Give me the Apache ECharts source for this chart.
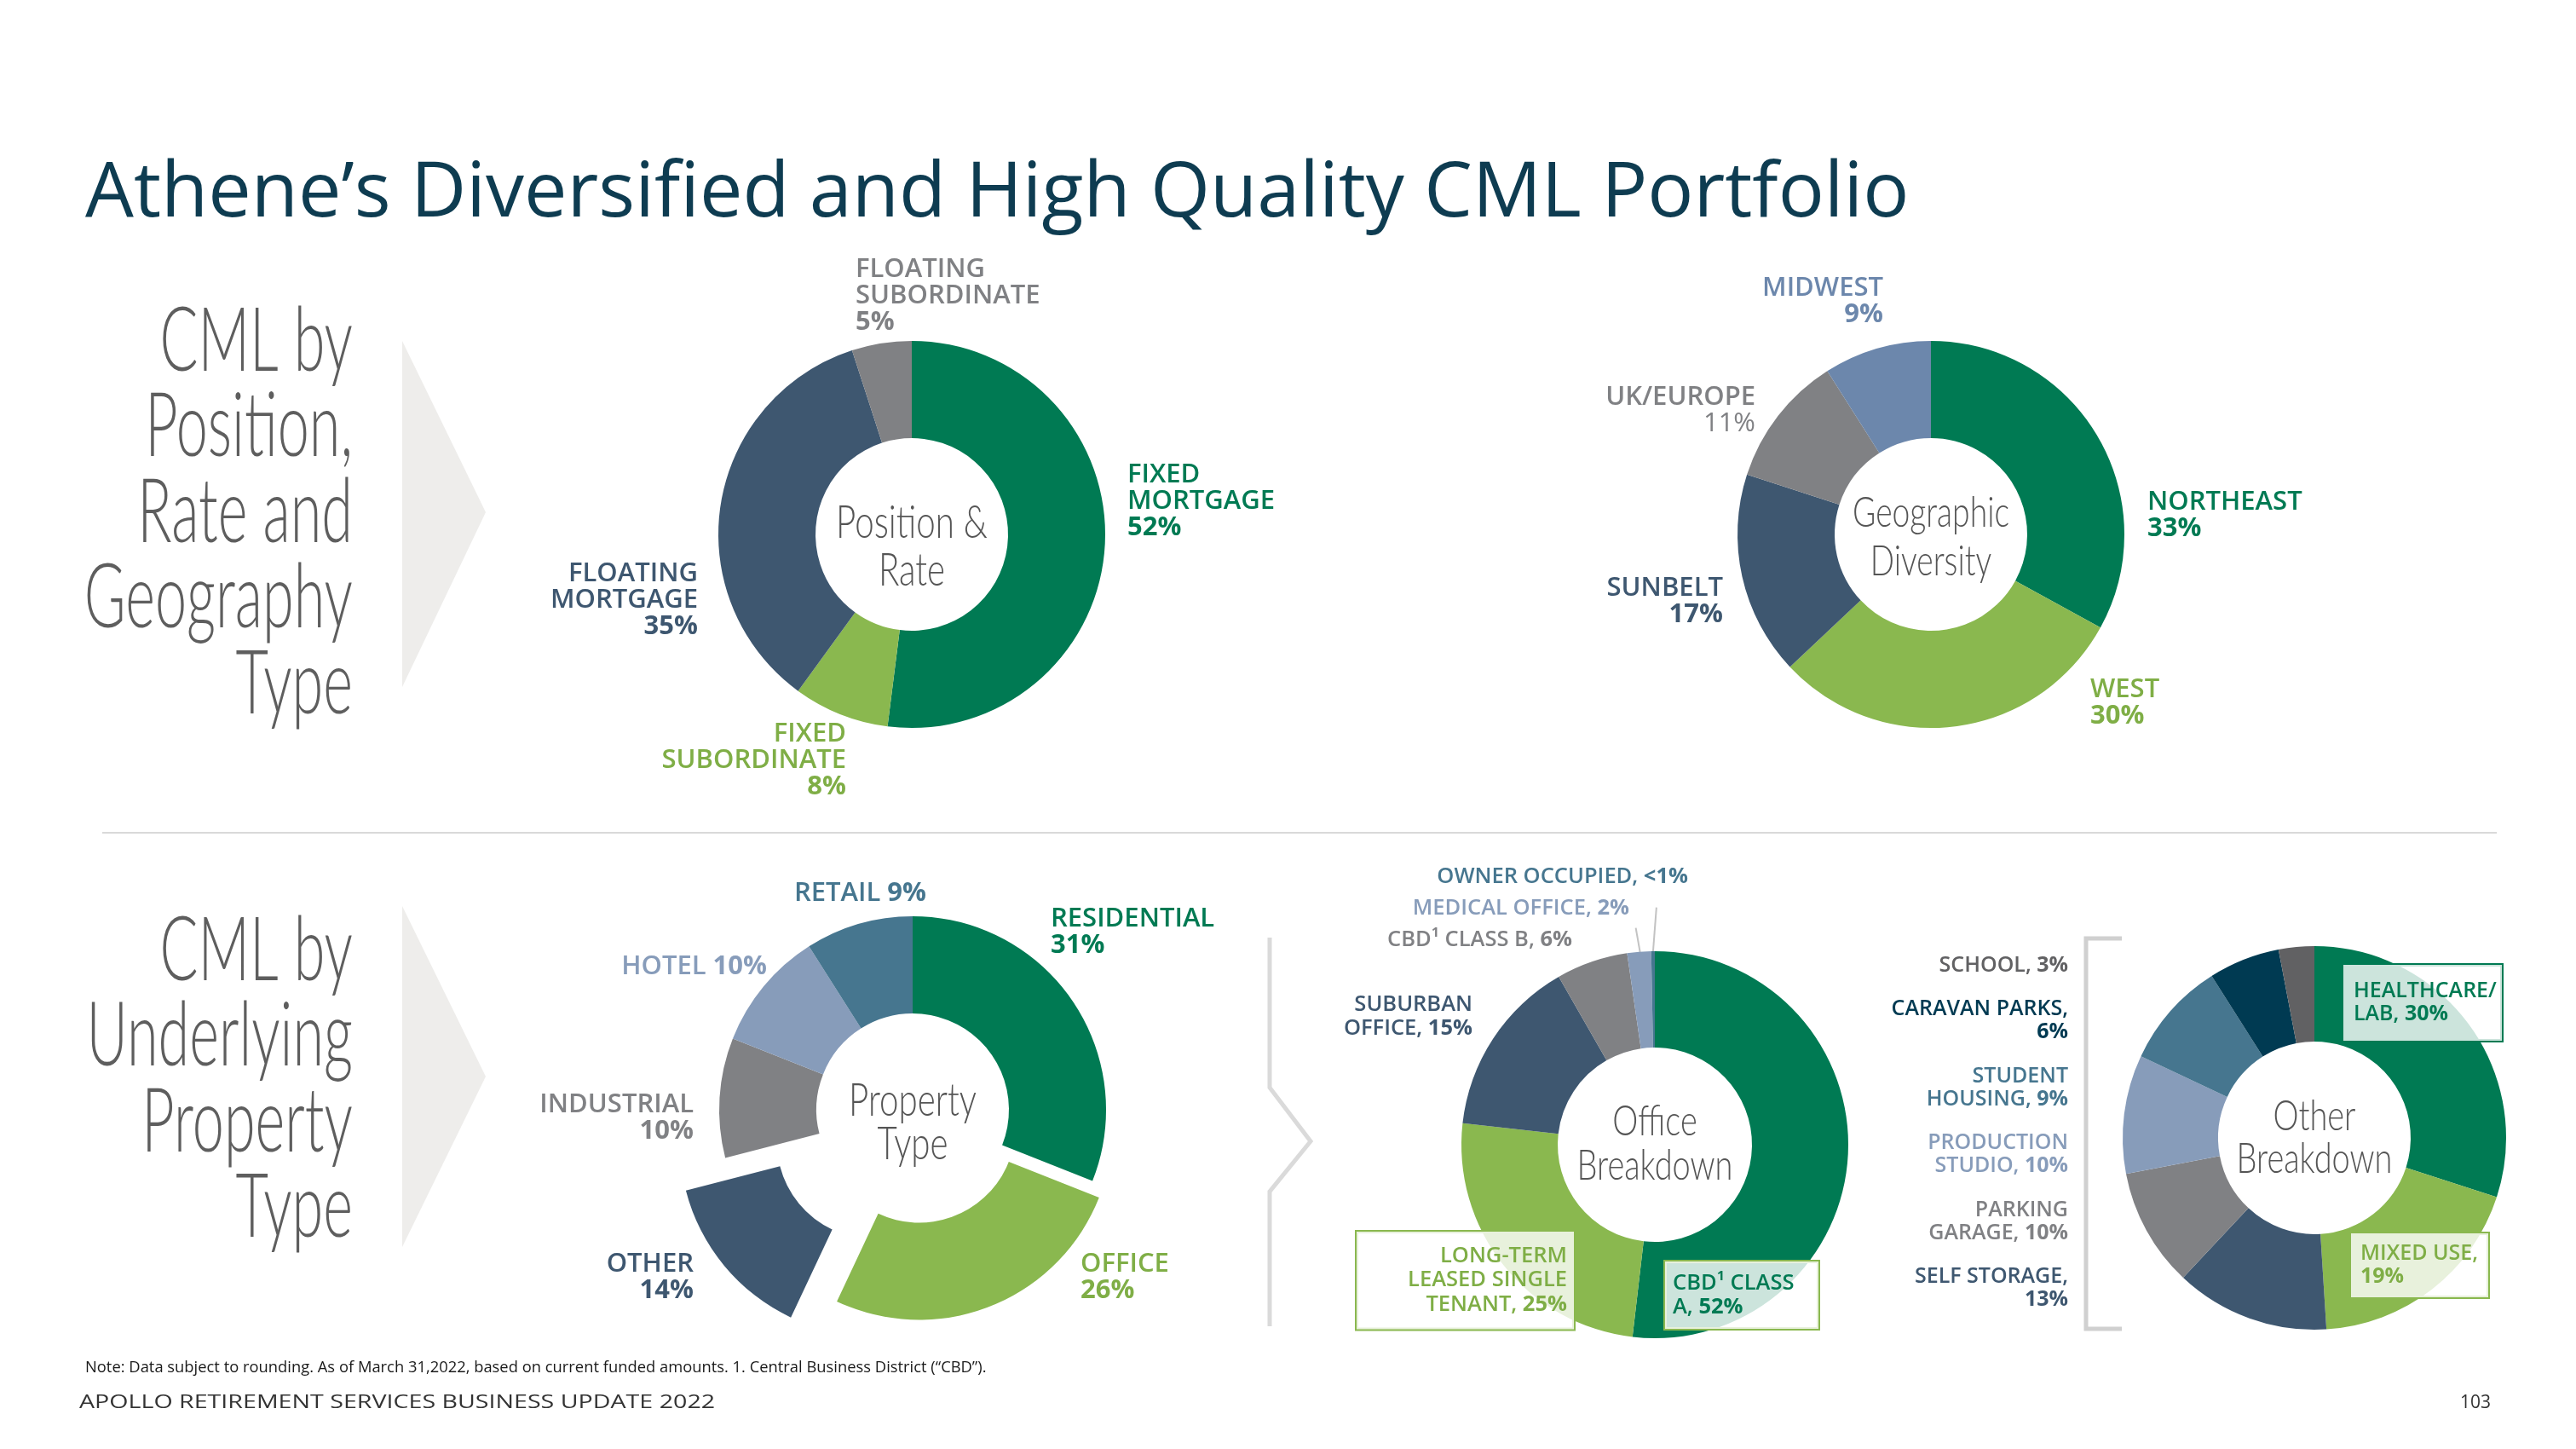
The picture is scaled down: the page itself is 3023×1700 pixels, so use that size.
<!DOCTYPE html>
<html><head><meta charset="utf-8">
<script src="https://cdn.jsdelivr.net/npm/echarts@6/dist/echarts.min.js"></script>
<style>html,body{margin:0;padding:0;background:#fff}#c{width:3023px;height:1700px}</style>
</head><body><div id="c"></div>
<script>
// ---------------- data ----------------
const titleText = 'Athene’s Diversified and High Quality CML Portfolio';
const positionNames = ['FIXED\nMORTGAGE', 'FIXED\nSUBORDINATE', 'FLOATING\nMORTGAGE', 'FLOATING\nSUBORDINATE'];
const positionValues = [52, 8, 35, 5];
const geoNames = ['NORTHEAST', 'WEST', 'SUNBELT', 'UK/EUROPE', 'MIDWEST'];
const geoValues = [33, 30, 17, 11, 9];
const propertyNames = ['RESIDENTIAL', 'OFFICE', 'OTHER', 'INDUSTRIAL', 'HOTEL', 'RETAIL'];
const propertyValues = [31, 26, 14, 10, 10, 9];
const officeNames = ['CBD¹ CLASS\nA', 'LONG-TERM\nLEASED SINGLE\nTENANT', 'SUBURBAN\nOFFICE', 'CBD¹ CLASS B', 'MEDICAL OFFICE', 'OWNER OCCUPIED'];
const officeValues = [52, 25, 15, 6, 2, 0.3];
const otherNames = ['HEALTHCARE/\nLAB', 'MIXED USE', 'SELF STORAGE', 'PARKING\nGARAGE', 'PRODUCTION\nSTUDIO', 'STUDENT\nHOUSING', 'CARAVAN PARKS', 'SCHOOL'];
const otherValues = [30, 19, 13, 10, 10, 9, 6, 3];
// separators between name and value in each label
const positionSeps = ['\n', '\n', '\n', '\n'];
const geoSeps = ['\n', '\n', '\n', '\n', '\n'];
const propertySeps = ['\n', '\n', '\n', '\n', ' ', ' '];
const officeSeps = [', ', ', ', ', ', ', ', ', ', ', '];
const otherSeps = [', ', ',\n', ',\n', ', ', ', ', ', ', ',\n', ', '];

// ---------------- styles ----------------
const F = "'Open Sans', 'Noto Sans', sans-serif";
const COND = "Lato, 'Open Sans', sans-serif";
const C = {green: '#007A53', lgreen: '#8AB84F', lgreenT: '#7FAE46', slate: '#3E5770', gray: '#808184',
  mid: '#6C87AC', hotel: '#879CBA', teal: '#46768F', navy: '#003A52', dgray: '#616163'};
const positionColors = [C.green, C.lgreen, C.slate, C.gray];
const positionText = [C.green, C.lgreenT, C.slate, C.gray];
const geoColors = [C.green, C.lgreen, C.slate, C.gray, C.mid];
const geoText = [C.green, C.lgreenT, C.slate, C.gray, C.mid];
const propertyColors = [C.green, C.lgreen, C.slate, C.gray, C.hotel, C.teal];
const propertyText = [C.green, C.lgreenT, C.slate, C.gray, C.hotel, C.teal];
const officeColors = [C.green, C.lgreen, C.slate, C.gray, C.hotel, C.teal];
const officeText = [C.green, C.lgreenT, C.slate, C.gray, C.hotel, C.teal];
const otherColors = [C.green, C.lgreen, C.slate, C.gray, C.hotel, C.teal, C.navy, C.dgray];
const otherText = [C.green, C.lgreenT, C.slate, C.gray, C.hotel, C.teal, C.navy, C.dgray];

// label anchors: [x, first baseline, align]  or box spec
const positionPos = [[1323, 566, 'left'], [993, 870, 'right'], [819, 682, 'right'], [1004, 325, 'left']];
const geoPos = [[2520, 598, 'left'], [2453, 818, 'left'], [2022, 699, 'right'], [2060, 475, 'right'], [2210, 347, 'right']];
const propertyPos = [[1233, 1087, 'left'], [1268, 1492, 'left'], [814, 1492, 'right'], [814, 1305, 'right'], [900, 1143, 'right'], [1087, 1057, 'right']];
const officePos = [
  {box: true, x: 1954, y: 1480, align: 'left', pad: [11, 6, 11, 9], w: 165, border: C.lgreen},
  {box: true, x: 1847, y: 1445, align: 'right', pad: [14, 8, 15, 8], w: 239, border: C.lgreen},
  [1728, 1186, 'right'], [1845, 1110, 'right'], [1912, 1073, 'right'], [1981, 1036, 'right']];
// leader lines: [dx of top end from slice centre, gap below label]
const officeLeaders = [null, null, null, null, [-5, 9], [4, 22]];
const otherPos = [
  {box: true, x: 2750, y: 1132, align: 'left', pad: [17, 3, 18, 12], w: 171, border: C.green},
  {box: true, x: 2759, y: 1447, align: 'left', pad: [10, 4, 11, 11], w: 146, border: C.lgreen},
  [2427, 1505, 'right'], [2427, 1427, 'right'], [2427, 1348, 'right'], [2427, 1270, 'right'], [2427, 1191, 'right'], [2427, 1140, 'right']];

function fmtPct(v) { return v < 1 ? '<1%' : Math.round(v) + '%'; }

function buildPie(cfg) {
  const data = cfg.values.map((v, i) => {
    const pos = cfg.pos[i];
    const item = {
      name: cfg.names[i], value: v,
      itemStyle: {color: (cfg.hide && cfg.hide[i]) ? 'rgba(0,0,0,0)' : cfg.colors[i]},
      label: {color: cfg.textColors[i], show: !(cfg.noLabel && cfg.noLabel[i])}
    };
    if (cfg.selected && cfg.selected[i]) item.selected = true;
    if (pos.box) Object.assign(item.label, {backgroundColor: 'rgba(255,255,255,0.8)', borderColor: pos.border,
      borderWidth: 2, padding: pos.pad, width: pos.w, overflow: 'none'});
    if (cfg.leader && cfg.leader[i]) item.labelLine = {show: true, lineStyle: {color: '#C3C3C3', width: 2}};
    return item;
  });
  const fs = cfg.fs, lh = cfg.lh;
  return {
    type: 'pie', center: cfg.center, radius: cfg.radius, startAngle: 90, clockwise: true,
    avoidLabelOverlap: false, silent: true,
    selectedMode: cfg.selected ? 'multiple' : false, selectedOffset: cfg.offset || 0,
    emphasis: {disabled: true}, labelLine: {show: false},
    label: {
      show: true, position: 'outside',
      formatter: p => '{n|' + p.name + cfg.seps[p.dataIndex] + '}{' +
        ((cfg.lightVal && cfg.lightVal[p.dataIndex]) ? 'vl' : 'v') + '|' + fmtPct(p.value) + '}',
      rich: {
        n: {fontFamily: F, fontSize: fs, fontWeight: 600, lineHeight: lh},
        v: {fontFamily: F, fontSize: fs, fontWeight: 700, lineHeight: lh},
        vl: {fontFamily: F, fontSize: fs, fontWeight: 400, lineHeight: lh}
      }
    },
    labelLayout: p => {
      const q = cfg.pos[p.dataIndex];
      if (q.box) return {x: q.x, y: q.y, align: q.align, verticalAlign: 'top'};
      const out = {x: q[0], y: q[1] - 0.3 * fs - lh / 2, align: q[2], verticalAlign: 'top'};
      const ld = cfg.leader && cfg.leader[p.dataIndex];
      if (ld) {
        const bx = p.rect.x + p.rect.width / 2, by = p.rect.y + 1;
        const labelBottom = out.y + lh;
        out.labelLinePoints = [[bx + ld[0], labelBottom + ld[1]], [bx, by], [bx, by]];
      }
      return out;
    },
    data
  };
}

const series = [
  buildPie({center: [1070, 627], radius: [113, 227], names: positionNames, values: positionValues,
    colors: positionColors, textColors: positionText, seps: positionSeps, pos: positionPos, fs: 31, lh: 31}),
  buildPie({center: [2266, 627], radius: [113, 227], names: geoNames, values: geoValues,
    colors: geoColors, textColors: geoText, seps: geoSeps, pos: geoPos, fs: 31, lh: 31,
    lightVal: [false, false, false, true, false]}),
  // property type: all slices except OTHER, OFFICE pulled out
  buildPie({center: [1071, 1302], radius: [113, 227], names: propertyNames, values: propertyValues,
    colors: propertyColors, textColors: propertyText, seps: propertySeps, pos: propertyPos, fs: 31, lh: 31,
    hide: [false, false, true, false, false, false], noLabel: [false, true, false, false, false, false],
    selected: [false, true, false, false, false, false], offset: 21}),
  // property type: OTHER slice pulled further out
  buildPie({center: [1071, 1302], radius: [113, 227], names: propertyNames, values: propertyValues,
    colors: propertyColors, textColors: propertyText, seps: propertySeps, pos: propertyPos, fs: 31, lh: 31,
    hide: [true, true, false, true, true, true], noLabel: [true, false, true, true, true, true],
    selected: [false, false, true, false, false, false], offset: 60}),
  buildPie({center: [1942, 1343], radius: [114, 227], names: officeNames, values: officeValues,
    colors: officeColors, textColors: officeText, seps: officeSeps, pos: officePos, fs: 25.5, lh: 28.5,
    leader: officeLeaders}),
  buildPie({center: [2716, 1335], radius: [113, 225], names: otherNames, values: otherValues,
    colors: otherColors, textColors: otherText, seps: otherSeps, pos: otherPos, fs: 25, lh: 27})
];

function centerText(x, y, text, fs, lh) {
  return {type: 'text', x: x, y: y, scaleX: 0.76, z: 10,
    style: {text: text, fontFamily: COND, fontWeight: 300, fontSize: fs, lineHeight: lh, fill: '#555555',
      align: 'center', verticalAlign: 'middle'}};
}

const graphic = [
  {type: 'text', x: 100, y: 228, style: {text: titleText, fontFamily: F, fontSize: 90, fontWeight: 400,
    fill: '#0E3C51', align: 'left', verticalAlign: 'middle'}},
  {type: 'polygon', shape: {points: [[472, 400], [570, 601], [472, 806]]}, style: {fill: '#EEEDEB'}},
  {type: 'polygon', shape: {points: [[472, 1063], [570, 1263], [472, 1463]]}, style: {fill: '#EEEDEB'}},
  {type: 'text', x: 414, y: 351, scaleX: 0.64, style: {text: 'CML by\nPosition,\nRate and\nGeography\nType',
    fontFamily: COND, fontWeight: 300, fontSize: 104, lineHeight: 100.5, fill: '#5E5E5E', align: 'right', verticalAlign: 'top'}},
  {type: 'text', x: 414, y: 1066, scaleX: 0.64, style: {text: 'CML by\nUnderlying\nProperty\nType',
    fontFamily: COND, fontWeight: 300, fontSize: 104, lineHeight: 100.5, fill: '#5E5E5E', align: 'right', verticalAlign: 'top'}},
  {type: 'line', shape: {x1: 120, y1: 977, x2: 2930, y2: 977}, style: {stroke: '#D9D9D9', lineWidth: 2}},
  {type: 'polyline', shape: {points: [[1490, 1100], [1490, 1276], [1538, 1339], [1490, 1398], [1490, 1556]]},
    style: {stroke: '#DADADA', lineWidth: 5, fill: null}},
  {type: 'polyline', shape: {points: [[2490, 1101], [2448, 1101], [2448, 1559], [2490, 1559]]},
    style: {stroke: '#D0D0D0', lineWidth: 5, fill: null}},
  centerText(1070, 642, 'Position &\nRate', 53, 56),
  centerText(2266, 631, 'Geographic\nDiversity', 49, 57),
  centerText(1071, 1317, 'Property\nType', 53, 51),
  centerText(1942, 1342, 'Office\nBreakdown', 50, 52),
  centerText(2716, 1335, 'Other\nBreakdown', 50, 50),
  {type: 'text', x: 100, y: 1605, scaleX: 1.02, style: {text: 'Note: Data subject to rounding. As of March 31,2022, based on current funded amounts. 1. Central Business District (“CBD”).',
    fontFamily: F, fontSize: 18, fill: '#1A1A1A', align: 'left', verticalAlign: 'middle'}},
  {type: 'text', x: 93, y: 1646, scaleX: 1.3, style: {text: 'APOLLO RETIREMENT SERVICES BUSINESS UPDATE 2022',
    fontFamily: F, fontSize: 22, fill: '#333333', align: 'left', verticalAlign: 'middle'}},
  {type: 'text', x: 2923, y: 1646, style: {text: '103', fontFamily: F, fontSize: 21, fill: '#333333',
    align: 'right', verticalAlign: 'middle'}}
];

const chart = echarts.init(document.getElementById('c'), null, {renderer: 'canvas'});
chart.setOption({backgroundColor: '#ffffff', animation: false, series: series, graphic: graphic});
</script>
</body></html>
